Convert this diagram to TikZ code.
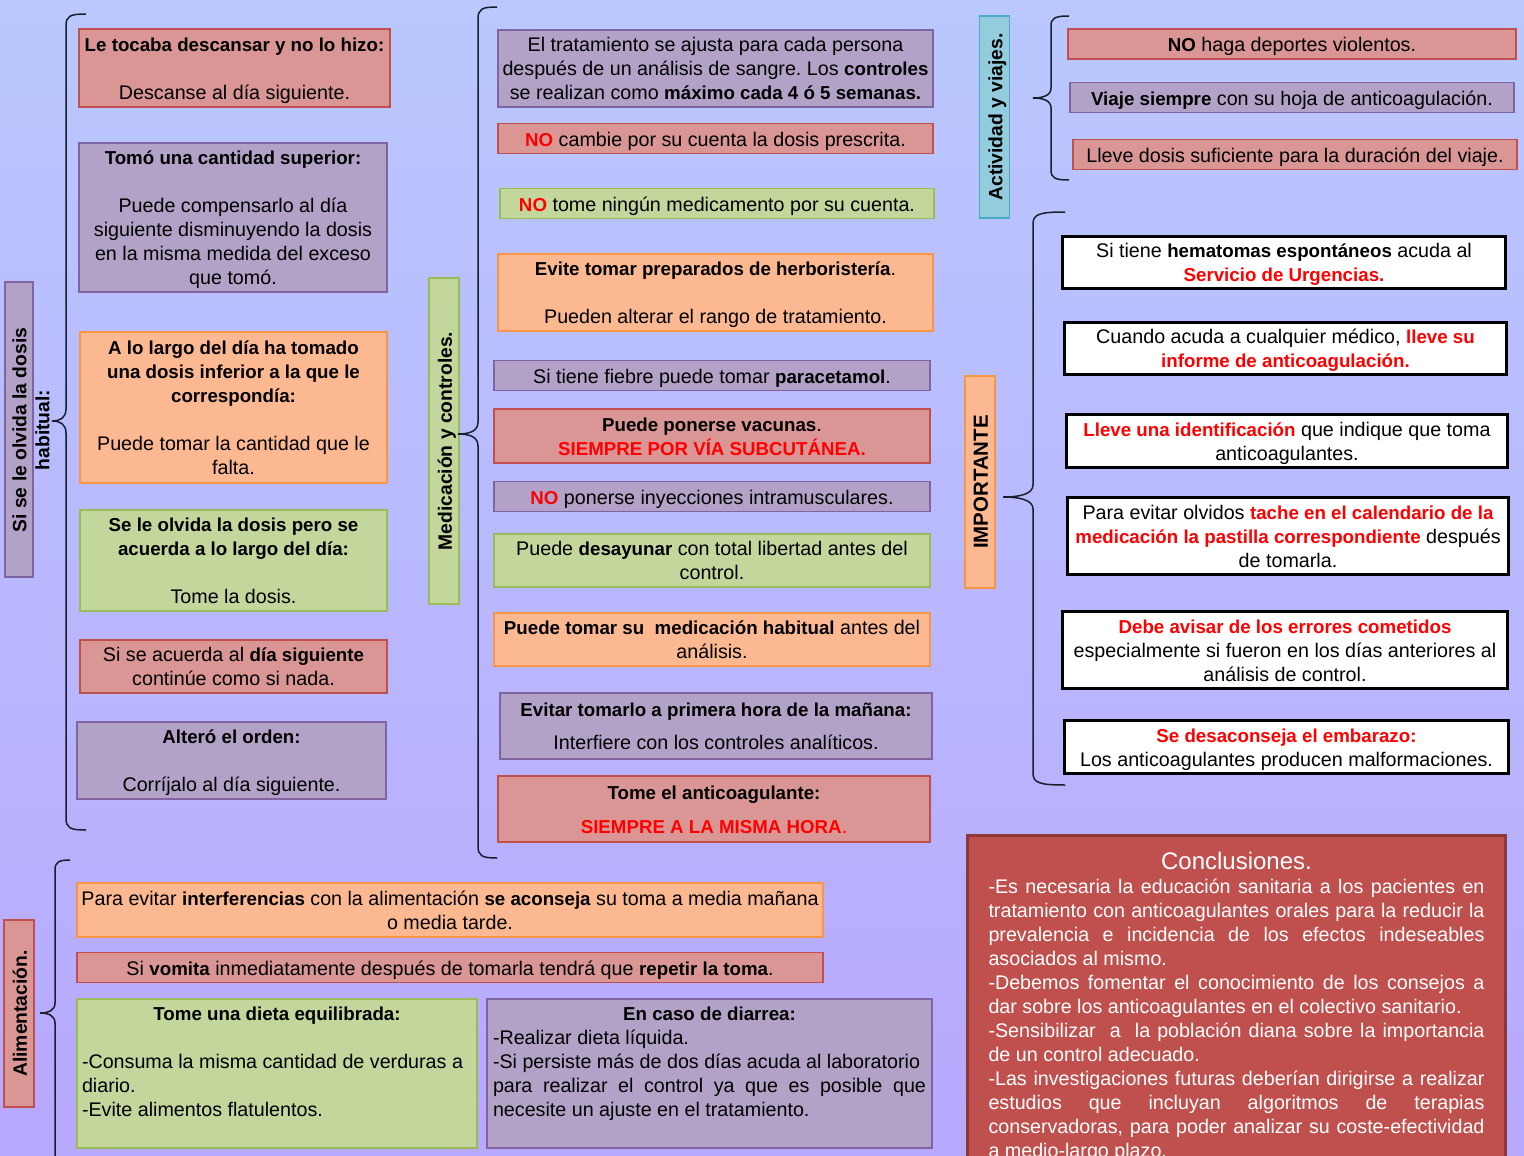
\documentclass[tikz,border=0pt]{standalone}
\usepackage{fontspec}
\setmainfont{Liberation Sans}[BoldFeatures={Scale=0.95}]
\frenchspacing
\definecolor{bgtop}{RGB}{186,200,254}
\definecolor{bgmid}{RGB}{156,203,255}
\definecolor{bgbot}{RGB}{184,168,254}
\definecolor{rfill}{RGB}{217,150,148}
\definecolor{rdraw}{RGB}{192,80,77}
\definecolor{pfill}{RGB}{179,162,199}
\definecolor{pdraw}{RGB}{128,100,162}
\definecolor{ofill}{RGB}{252,185,145}
\definecolor{odraw}{RGB}{247,150,70}
\definecolor{gfill}{RGB}{195,214,155}
\definecolor{gdraw}{RGB}{155,187,89}
\definecolor{tfill}{RGB}{147,205,221}
\definecolor{tdraw}{RGB}{75,172,198}
\definecolor{cfill}{RGB}{192,80,77}
\definecolor{cdraw}{RGB}{140,56,54}
\definecolor{txtred}{RGB}{255,0,0}
\definecolor{bracecol}{RGB}{25,30,45}
\newcommand\redb[1]{\textcolor{txtred}{\bfseries #1}}
\newcommand\fl{\rule{0pt}{21.4pt}}
\newcommand\bodyfont{\fontsize{19.7}{24}\selectfont}
\newcommand\lblfont{\fontsize{20.3}{23}\selectfont\bfseries}
\tikzset{
  bx/.style={draw, line width=1.4pt, inner sep=0pt, align=center, font=\bodyfont, text=black, execute at begin node={\rule{0pt}{22.8pt}}},
  rbx/.style={bx, fill=rfill, draw=rdraw},
  pbx/.style={bx, fill=pfill, draw=pdraw},
  obx/.style={bx, fill=ofill, draw=odraw},
  gbx/.style={bx, fill=gfill, draw=gdraw},
  tbx/.style={bx, fill=tfill, draw=tdraw},
  wbx/.style={bx, fill=white, draw=black, line width=3pt},
  rl/.style={rotate=90, execute at begin node={\rule[-7.2pt]{0pt}{29.4pt}}},
  lbl/.style={rotate=90, font=\lblfont},
  brc/.style={draw=bracecol, line width=1.5pt},
}
\begin{document}
\begin{tikzpicture}[x=1pt,y=-1pt]
\path[use as bounding box] (0,0) rectangle (1524,1156);
\clip (0,0) rectangle (1524,1156);
\shade[top color=bgtop, middle color=bgmid, bottom color=bgbot] (0,0) rectangle (1524,1156);

% ---------- left column ----------
\node[pbx, minimum width=28pt, minimum height=295pt] (lab1box) at (19,429.5) {};
\node[lbl, align=center, inner sep=0pt] (lab1) at (31,430) {Si se le olvida la dosis\\ habitual:};

\node[rbx, minimum width=311pt, minimum height=78pt] (l1) at (234.5,68) {\fl\textbf{Le tocaba descansar y no lo hizo:}\\[24pt] Descanse al día siguiente.\strut};
\node[pbx, minimum width=308pt, minimum height=149pt] (l2) at (233,217.5) {\fl\textbf{Tomó una cantidad superior:}\\[24pt] Puede compensarlo al día\\ siguiente disminuyendo la dosis\\ en la misma medida del exceso\\ que tomó.\strut};
\node[obx, minimum width=307pt, minimum height=151pt] (l3) at (233.5,407.5) {\fl\textbf{A lo largo del día ha tomado}\\ \textbf{una dosis inferior a la que le}\\ \textbf{correspondía:}\\[24pt] Puede tomar la cantidad que le\\ falta.\strut};
\node[gbx, minimum width=307pt, minimum height=101pt] (l4) at (233.5,560.5) {\fl\textbf{Se le olvida la dosis pero se}\\ \textbf{acuerda a lo largo del día:}\\[24pt] Tome la dosis.\strut};
\node[rbx, minimum width=307pt, minimum height=53pt] (l5) at (233.5,666.5) {\fl Si se acuerda al \textbf{día siguiente}\\ continúe como si nada.\strut};
\node[pbx, minimum width=309pt, minimum height=77pt] (l6) at (231.5,760.5) {\fl\textbf{Alteró el orden:}\\[24pt] Corríjalo al día siguiente.\strut};

\draw[brc] (86,14) .. controls (70,14) and (66,16) .. (66,26) -- (66,409) .. controls (66,418) and (60,421) .. (52,421) .. controls (60,421) and (66,424) .. (66,433) -- (66,818) .. controls (66,828) and (70,830) .. (86,830);

% ---------- middle column ----------
\node[gbx, rl, minimum width=326pt, minimum height=28pt, font=\lblfont] (lab2) at (444,441) {Medicación y controles.};

\node[pbx, minimum width=435pt, minimum height=77pt] (m1) at (715.5,68.5) {\fl El tratamiento se ajusta para cada persona\\ después de un análisis de sangre. Los \textbf{controles}\\ se realizan como \textbf{máximo cada 4 ó 5 semanas.}\strut};
\node[rbx, minimum width=435pt, minimum height=29pt] (m2) at (715.5,138.5) {\redb{NO} cambie por su cuenta la dosis prescrita.\strut};
\node[gbx, minimum width=434pt, minimum height=29pt] (m3) at (717,203.5) {\redb{NO} tome ningún medicamento por su cuenta.\strut};
\node[obx, minimum width=435pt, minimum height=77pt] (m4) at (715.5,292.5) {\fl\textbf{Evite tomar preparados de herboristería}.\\[24pt] Pueden alterar el rango de tratamiento.\strut};
\node[pbx, minimum width=436pt, minimum height=29pt] (m5) at (712,375.5) {Si tiene fiebre puede tomar \textbf{paracetamol}.\strut};
\node[rbx, minimum width=436pt, minimum height=54pt] (m6) at (712,436) {\fl\textbf{Puede ponerse vacunas}.\\ \redb{SIEMPRE POR VÍA SUBCUTÁNEA.}\strut};
\node[pbx, minimum width=436pt, minimum height=29pt] (m7) at (712,496.5) {\redb{NO} ponerse inyecciones intramusculares.\strut};
\node[gbx, minimum width=436pt, minimum height=53pt] (m8) at (712,560.5) {\fl Puede \textbf{desayunar} con total libertad antes del\\ control.\strut};
\node[obx, minimum width=436pt, minimum height=53pt] (m9) at (712,639.5) {\fl\textbf{Puede tomar su\ \ medicación habitual} antes del\\ análisis.\strut};
\node[pbx, minimum width=432pt, minimum height=66pt] (m10) at (716,726) {\fl\textbf{Evitar tomarlo a primera hora de la mañana:}\\[9pt] Interfiere con los controles analíticos.\strut};
\node[rbx, minimum width=432pt, minimum height=66pt] (m11) at (714,809) {\fl\textbf{Tome el anticoagulante:}\\[10pt] \redb{SIEMPRE A LA MISMA HORA}\textcolor{txtred}{.}\strut};

\draw[brc] (497,7) .. controls (482,7) and (478,9) .. (478,19) -- (478,422) .. controls (478,431) and (470,434) .. (458,434) .. controls (470,434) and (478,437) .. (478,446) -- (478,846) .. controls (478,856) and (482,858) .. (497,858);

% ---------- right column ----------
\node[tbx, rl, minimum width=202pt, minimum height=29pt, font=\lblfont] (lab3) at (994.5,117) {Actividad y viajes.};
\node[rbx, minimum width=448pt, minimum height=28pt] (a1) at (1292,44) {\textbf{NO} haga deportes violentos.\strut};
\node[pbx, minimum width=444pt, minimum height=29pt] (a2) at (1292,97.5) {\textbf{Viaje siempre} con su hoja de anticoagulación.\strut};
\node[rbx, minimum width=444pt, minimum height=29pt] (a3) at (1295,154.5) {Lleve dosis suficiente para la duración del viaje.\strut};

\draw[brc] (1069,16) .. controls (1055,16) and (1051,18) .. (1051,26) -- (1051,88) .. controls (1051,95) and (1044,98) .. (1033,98) .. controls (1044,98) and (1051,101) .. (1051,108) -- (1051,170) .. controls (1051,178) and (1055,180) .. (1069,180);

\node[obx, rl, minimum width=212pt, minimum height=28pt, font=\fontsize{21.5}{24}\selectfont\bfseries] (lab4) at (980,482) {IMPORTANTE};
\node[wbx, minimum width=443pt, minimum height=52pt] (i1) at (1284,262.5) {\fl Si tiene \textbf{hematomas espontáneos} acuda al\\ \redb{Servicio de Urgencias.}\strut};
\node[wbx, minimum width=442pt, minimum height=52pt] (i2) at (1285.5,348.5) {\fl Cuando acuda a cualquier médico, \redb{lleve su}\\ \redb{informe de anticoagulación.}\strut};
\node[wbx, minimum width=441pt, minimum height=51pt] (i3) at (1287,441) {\fl\redb{Lleve una identificación} que indique que toma\\ anticoagulantes.\strut};
\node[wbx, minimum width=441pt, minimum height=75pt] (i4) at (1288,536) {\fl Para evitar olvidos \redb{tache en el calendario de la}\\ \redb{medicación la pastilla correspondiente} después\\ de tomarla.\strut};
\node[wbx, minimum width=445pt, minimum height=75pt] (i5) at (1285,650) {\fl\redb{Debe avisar de los errores cometidos}\\ especialmente si fueron en los días anteriores al\\ análisis de control.\strut};
\node[wbx, minimum width=444pt, minimum height=51pt] (i6) at (1286.5,747) {\fl\redb{Se desaconseja el embarazo:}\\ Los anticoagulantes producen malformaciones.\strut};

\draw[brc] (1065,212) .. controls (1040,212) and (1033,214) .. (1033,224) -- (1033,485) .. controls (1033,494) and (1020,497) .. (1003,497) .. controls (1020,497) and (1033,500) .. (1033,509) -- (1033,773) .. controls (1033,783) and (1040,785) .. (1065,785);

% ---------- bottom ----------
\node[rbx, rl, minimum width=187pt, minimum height=28pt, font=\lblfont] (lab5) at (19,1013.5) {Alimentación.};
\node[obx, minimum width=746pt, minimum height=54pt] (b1) at (450,910) {\fl Para evitar \textbf{interferencias} con la alimentación \textbf{se aconseja} su toma a media mañana\\ o media tarde.\strut};
\node[rbx, minimum width=746pt, minimum height=29pt] (b2) at (450,967.5) {Si \textbf{vomita} inmediatamente después de tomarla tendrá que \textbf{repetir la toma}.\strut};
\node[gbx, minimum width=400pt, minimum height=149pt, align=left] (b3) at (277,1073.5) {\fl\makebox[390pt]{\textbf{Tome una dieta equilibrada:}}\\[24pt] -Consuma la misma cantidad de verduras a\\ diario.\\ -Evite alimentos flatulentos.\\ \mbox{}\strut};
\node[pbx, minimum width=445pt, minimum height=149pt, align=left] (b4) at (709.5,1073.5) {\fl\makebox[433pt]{\textbf{En caso de diarrea:}}\\ -Realizar dieta líquida.\\ -Si persiste más de dos días acuda al laboratorio\\ \makebox[433pt][s]{para realizar el control ya que es posible que}\\ necesite un ajuste en el tratamiento.\\ \mbox{}\strut};

\draw[brc] (70,860) .. controls (59,860) and (55,862) .. (55,870) -- (55,1003) .. controls (55,1010) and (49,1013) .. (40,1013) .. controls (49,1013) and (55,1016) .. (55,1023) -- (55,1170);

% ---------- conclusions ----------
\node[draw=cdraw, fill=cfill, line width=3pt, anchor=north, minimum width=538pt, inner xsep=0pt, inner ysep=17pt, align=left, font=\bodyfont, text=white] (concl) at (1236.5,834) {%
{\fontsize{24}{24}\selectfont\makebox[496pt]{Conclusiones.}}\\
\makebox[496pt][s]{-Es necesaria la educación sanitaria a los pacientes en}\\
\makebox[496pt][s]{tratamiento con anticoagulantes orales para la reducir la}\\
\makebox[496pt][s]{prevalencia e incidencia de los efectos indeseables}\\
asociados al mismo.\\
\makebox[496pt][s]{-Debemos fomentar el conocimiento de los consejos a}\\
dar sobre los anticoagulantes en el colectivo sanitario.\\
\makebox[496pt][s]{-Sensibilizar\ \ a\ \ la población diana sobre la importancia}\\
de un control adecuado.\\
\makebox[496pt][s]{-Las investigaciones futuras deberían dirigirse a realizar}\\
\makebox[496pt][s]{estudios que incluyan algoritmos de terapias}\\
\makebox[496pt][s]{conservadoras, para poder analizar su coste-efectividad}\\
a medio-largo plazo.};
\end{tikzpicture}
\end{document}
